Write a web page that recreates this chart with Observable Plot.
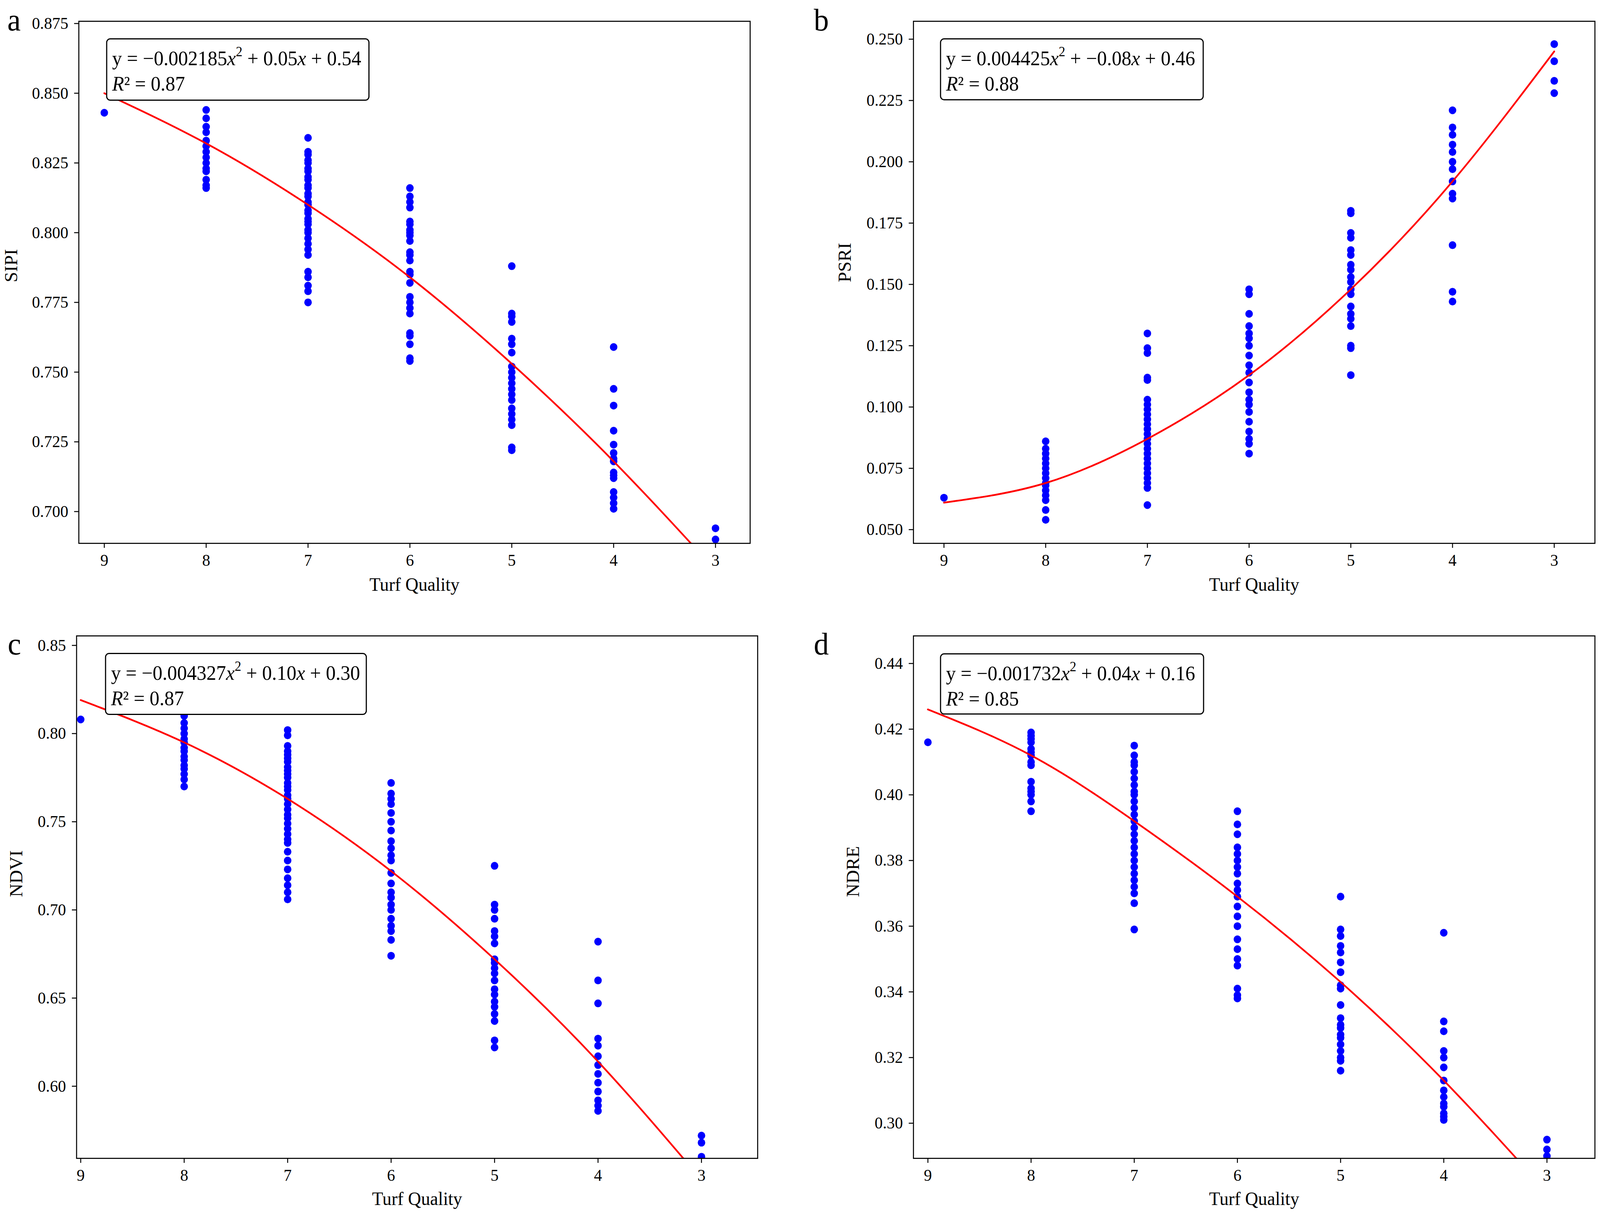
<!DOCTYPE html>
<html>
<head>
<meta charset="utf-8">
<script src="https://cdn.jsdelivr.net/npm/d3@7"></script>
<script src="https://cdn.jsdelivr.net/npm/@observablehq/plot@0.6"></script>
<style>
  html, body { margin: 0; padding: 0; background: #fff; overflow: hidden; }
  #page { position: relative; width: 4252px; height: 3109px; background: #fff; font-family: "Liberation Serif", "DejaVu Serif", serif; transform-origin: 0 0; }
  .panel { position: absolute; }
  .eqbox { position: absolute; box-sizing: border-box; border: 3px solid #000; border-radius: 11px; background: #fff;
           font-family: "Liberation Serif", serif; font-size: 52px; color: #000; padding: 16px 0 0 13px; white-space: nowrap; }
  .eqbox div { line-height: 65px; height: 65px; }
  .eqbox i { font-style: italic; }
  .eqbox sup { font-size: 35px; vertical-align: 0; position: relative; top: -23px; }
</style>
</head>
<body>
<div id="page">
  <div class="panel" id="pa" style="left:0px;top:0px"></div>
  <div class="panel" id="pb" style="left:2126px;top:0px"></div>
  <div class="panel" id="pc" style="left:0px;top:1554px"></div>
  <div class="panel" id="pd" style="left:2126px;top:1554px"></div>

  <div class="eqbox" style="left:282px;top:98px;width:700px;height:160px">
    <div>y = −0.002185<i>x</i><sup>2</sup> + 0.05<i>x</i> + 0.54</div>
    <div><i>R</i>² = 0.87</div>
  </div>
  <div class="eqbox" style="left:2498px;top:98px;width:701px;height:159px">
    <div>y = 0.004425<i>x</i><sup>2</sup> + −0.08<i>x</i> + 0.46</div>
    <div><i>R</i>² = 0.88</div>
  </div>
  <div class="eqbox" style="left:279px;top:1672px;width:696px;height:159px">
    <div>y = −0.004327<i>x</i><sup>2</sup> + 0.10<i>x</i> + 0.30</div>
    <div><i>R</i>² = 0.87</div>
  </div>
  <div class="eqbox" style="left:2498px;top:1673px;width:702px;height:157px">
    <div>y = −0.001732<i>x</i><sup>2</sup> + 0.04<i>x</i> + 0.16</div>
    <div><i>R</i>² = 0.85</div>
  </div>
</div>
<script>
// ---------- DATA ----------
const quality = [9, 8, 7, 6, 5, 4, 3];
const xLabel = "Turf Quality";

// SIPI values per quality level (aligned with `quality`)
const sipi = [
  [0.843],
  [0.844, 0.841, 0.838, 0.836, 0.833, 0.831, 0.829, 0.827, 0.825, 0.823, 0.822, 0.819, 0.817, 0.816],
  [0.834, 0.829, 0.828, 0.826, 0.825, 0.823, 0.822, 0.820, 0.819, 0.817, 0.816, 0.814, 0.813, 0.811, 0.810, 0.808, 0.807, 0.805, 0.804, 0.803, 0.801, 0.800, 0.798, 0.796, 0.794, 0.792, 0.786, 0.784, 0.781, 0.779, 0.775],
  [0.816, 0.813, 0.811, 0.809, 0.804, 0.803, 0.801, 0.800, 0.799, 0.797, 0.793, 0.792, 0.790, 0.786, 0.785, 0.782, 0.777, 0.775, 0.773, 0.771, 0.764, 0.763, 0.760, 0.755, 0.754],
  [0.788, 0.771, 0.770, 0.768, 0.762, 0.760, 0.757, 0.752, 0.750, 0.748, 0.746, 0.744, 0.742, 0.740, 0.737, 0.735, 0.733, 0.731, 0.723, 0.722],
  [0.759, 0.744, 0.738, 0.729, 0.724, 0.721, 0.719, 0.718, 0.714, 0.713, 0.712, 0.707, 0.705, 0.703, 0.701],
  [0.694, 0.690]
];
const sipiFit = [0.850, 0.832, 0.810, 0.784, 0.753, 0.718, 0.679];
const sipiTicks = [0.700, 0.725, 0.750, 0.775, 0.800, 0.825, 0.850, 0.875];

// PSRI
const psri = [
  [0.063],
  [0.086, 0.083, 0.081, 0.079, 0.077, 0.075, 0.073, 0.071, 0.069, 0.068, 0.066, 0.064, 0.062, 0.058, 0.054],
  [0.130, 0.124, 0.122, 0.112, 0.111, 0.103, 0.101, 0.099, 0.097, 0.095, 0.093, 0.091, 0.089, 0.087, 0.085, 0.083, 0.081, 0.079, 0.077, 0.075, 0.073, 0.071, 0.069, 0.067, 0.060],
  [0.148, 0.146, 0.138, 0.133, 0.130, 0.128, 0.125, 0.121, 0.117, 0.114, 0.110, 0.106, 0.103, 0.101, 0.098, 0.094, 0.090, 0.087, 0.085, 0.081],
  [0.180, 0.179, 0.171, 0.169, 0.164, 0.162, 0.158, 0.156, 0.153, 0.151, 0.148, 0.146, 0.141, 0.138, 0.136, 0.133, 0.125, 0.124, 0.113],
  [0.221, 0.214, 0.211, 0.207, 0.204, 0.200, 0.197, 0.192, 0.187, 0.185, 0.166, 0.147, 0.143],
  [0.248, 0.241, 0.233, 0.228]
];
const psriFit = [0.061, 0.069, 0.087, 0.113, 0.148, 0.192, 0.245];
const psriTicks = [0.050, 0.075, 0.100, 0.125, 0.150, 0.175, 0.200, 0.225, 0.250];

// NDVI
const ndvi = [
  [0.808],
  [0.810, 0.806, 0.803, 0.800, 0.797, 0.795, 0.792, 0.790, 0.787, 0.785, 0.782, 0.780, 0.777, 0.774, 0.770],
  [0.802, 0.799, 0.793, 0.790, 0.788, 0.786, 0.784, 0.781, 0.779, 0.777, 0.775, 0.772, 0.770, 0.768, 0.765, 0.763, 0.760, 0.757, 0.754, 0.752, 0.749, 0.746, 0.743, 0.740, 0.738, 0.733, 0.728, 0.723, 0.718, 0.714, 0.710, 0.706],
  [0.772, 0.766, 0.763, 0.760, 0.755, 0.750, 0.745, 0.739, 0.735, 0.731, 0.728, 0.721, 0.715, 0.710, 0.707, 0.703, 0.700, 0.695, 0.691, 0.688, 0.683, 0.674],
  [0.725, 0.703, 0.700, 0.695, 0.688, 0.685, 0.681, 0.672, 0.670, 0.667, 0.664, 0.660, 0.655, 0.652, 0.648, 0.645, 0.641, 0.637, 0.626, 0.622],
  [0.682, 0.660, 0.647, 0.627, 0.623, 0.617, 0.612, 0.607, 0.602, 0.597, 0.592, 0.589, 0.586],
  [0.572, 0.568, 0.560]
];
const ndviFit = [0.819, 0.795, 0.763, 0.722, 0.672, 0.614, 0.547];
const ndviTicks = [0.60, 0.65, 0.70, 0.75, 0.80, 0.85];

// NDRE
const ndre = [
  [0.416],
  [0.419, 0.418, 0.417, 0.416, 0.414, 0.413, 0.412, 0.410, 0.409, 0.404, 0.402, 0.401, 0.400, 0.398, 0.395],
  [0.415, 0.412, 0.410, 0.409, 0.407, 0.405, 0.403, 0.401, 0.400, 0.398, 0.396, 0.394, 0.392, 0.390, 0.388, 0.386, 0.384, 0.382, 0.380, 0.378, 0.376, 0.374, 0.372, 0.370, 0.367, 0.359],
  [0.395, 0.391, 0.388, 0.384, 0.382, 0.380, 0.378, 0.376, 0.373, 0.371, 0.369, 0.366, 0.363, 0.360, 0.356, 0.353, 0.350, 0.348, 0.341, 0.339, 0.338],
  [0.369, 0.359, 0.357, 0.354, 0.352, 0.349, 0.346, 0.342, 0.341, 0.336, 0.332, 0.330, 0.329, 0.327, 0.326, 0.324, 0.322, 0.320, 0.319, 0.316],
  [0.358, 0.331, 0.328, 0.322, 0.320, 0.317, 0.313, 0.310, 0.308, 0.306, 0.305, 0.303, 0.302, 0.301],
  [0.295, 0.292, 0.290, 0.289]
];
const ndreFit = [0.426, 0.412, 0.392, 0.369, 0.343, 0.313, 0.279];
const ndreTicks = [0.30, 0.32, 0.34, 0.36, 0.38, 0.40, 0.42, 0.44];

// ---------- DRAW ----------
function toPoints(byQ) { return quality.flatMap((q, i) => byQ[i].map(v => ({q, v}))); }
function toFit(fit) { return quality.map((q, i) => ({q, v: fit[i]})); }

function panel(o) {
  const chart = Plot.plot({
    width: o.width, height: o.height,
    marginLeft: o.ml, marginRight: o.mr, marginTop: o.mt, marginBottom: o.mb,
    style: {fontFamily: "Liberation Serif, serif", fontSize: "43px", color: "#000", background: "#fff", overflow: "visible", maxWidth: "none"},
    x: {domain: o.xDomain},
    y: {domain: o.yDomain},
    marks: [
      Plot.dot(toPoints(o.values), {x: "q", y: "v", r: 10, fill: "#0000ff", stroke: "none", clip: true}),
      Plot.line(toFit(o.fit), {x: "q", y: "v", stroke: "#ff0000", strokeWidth: 4.5, curve: "natural", clip: true}),
      Plot.frame({stroke: "#000", strokeWidth: 2.7}),
      Plot.axisX({ticks: quality, tickFormat: d => String(d), tickSize: 12, tickPadding: 15, strokeWidth: 2.5, fontSize: 43, label: null}),
      Plot.axisY({ticks: o.yTicks, tickFormat: d3.format(o.yFormat), tickSize: 12, tickPadding: 16, strokeWidth: 2.5, fontSize: 43, label: null}),
      Plot.text([xLabel], {frameAnchor: "bottom", dy: o.xLabelDy, fontSize: 48, lineAnchor: "middle"}),
      Plot.text([o.yLabel], {frameAnchor: "left", dx: o.yLabelDx, rotate: -90, fontSize: 48, lineAnchor: "middle"}),
      Plot.text([o.letter], {frameAnchor: "top-left", dx: o.letterDx, dy: o.letterDy, fontSize: 80, textAnchor: "start", lineAnchor: "middle"})
    ]
  });
  document.getElementById(o.id).appendChild(chart);
}

panel({id: "pa", width: 2126, height: 1554, ml: 209, mr: 133, mt: 54, mb: 163,
  xDomain: [9.25, 2.66], yDomain: [0.6886, 0.8758], yTicks: sipiTicks, yFormat: ".3f",
  values: sipi, fit: sipiFit, yLabel: "SIPI", yLabelDx: -179, xLabelDy: 106,
  letter: "a", letterDx: -190, letterDy: -2});

panel({id: "pb", width: 2126, height: 1554, ml: 301, mr: 14, mt: 54, mb: 163,
  xDomain: [9.30, 2.60], yDomain: [0.0444, 0.2573], yTicks: psriTicks, yFormat: ".3f",
  values: psri, fit: psriFit, yLabel: "PSRI", yLabelDx: -182, xLabelDy: 106,
  letter: "b", letterDx: -265, letterDy: -2});

panel({id: "pc", width: 2126, height: 1555, ml: 203, mr: 113, mt: 74, mb: 143,
  xDomain: [9.04, 2.457], yDomain: [0.5591, 0.8554], yTicks: ndviTicks, yFormat: ".2f",
  values: ndvi, fit: ndviFit, yLabel: "NDVI", yLabelDx: -160, xLabelDy: 104,
  letter: "c", letterDx: -183, letterDy: 22});

panel({id: "pd", width: 2126, height: 1555, ml: 301, mr: 14, mt: 74, mb: 143,
  xDomain: [9.14, 2.535], yDomain: [0.2893, 0.4484], yTicks: ndreTicks, yFormat: ".2f",
  values: ndre, fit: ndreFit, yLabel: "NDRE", yLabelDx: -160, xLabelDy: 104,
  letter: "d", letterDx: -265, letterDy: 22});

// Fit the 4252x3109 layout into whatever viewport the page is shown in.
(function fit() {
  const vw = document.documentElement.clientWidth || window.innerWidth;
  const vh = document.documentElement.clientHeight || window.innerHeight;
  const kx = vw / 4252, ky = vh / 3109;
  if (Math.abs(kx - 1) > 0.002 || Math.abs(ky - 1) > 0.002) {
    document.getElementById("page").style.transform = `scale(${kx}, ${ky})`;
  }
})();
</script>
</body>
</html>
